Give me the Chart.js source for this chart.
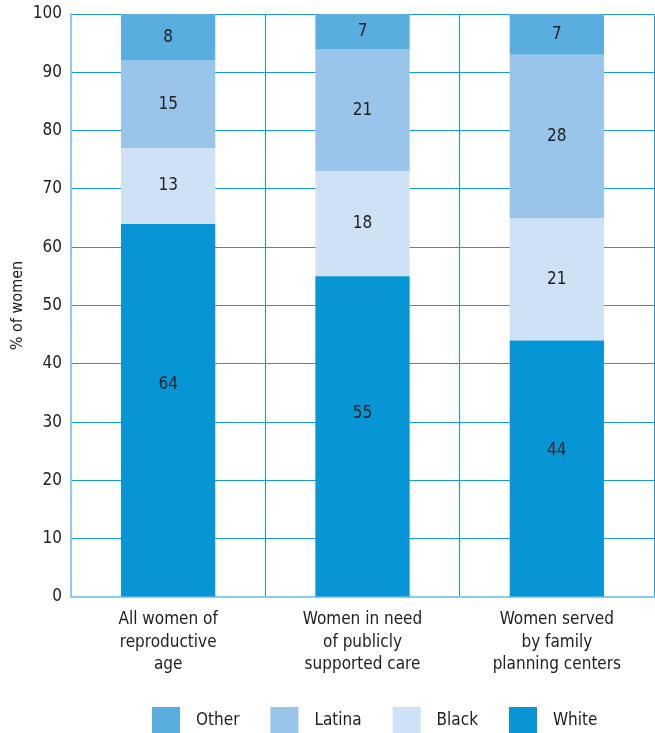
<!DOCTYPE html>
<html>
<head>
<meta charset="utf-8">
<script src="https://cdn.jsdelivr.net/npm/chart.js@4.4.0/dist/chart.umd.min.js"></script>
<style>
  html, body { margin: 0; padding: 0; background: #fff; }
  #wrap { width: 655px; height: 733px; }
</style>
</head>
<body>
<div id="wrap"><canvas id="chart" width="655" height="733"></canvas></div>
<script>
// chart data
var categories = [
    ['All women of', 'reproductive', 'age'],
    ['Women in need', 'of publicly', 'supported care'],
    ['Women served', 'by family', 'planning centers']
];
var white = [64, 55, 44];
var black = [13, 18, 21];
var latina = [15, 21, 28];
var other = [8, 7, 7];
var yTicks = [0, 10, 20, 30, 40, 50, 60, 70, 80, 90, 100];

var fontFam = "'Liberation Sans Narrow', 'DejaVu Sans Condensed', 'Roboto', sans-serif";
var gridBlue = '#1a9ad8';
var borderBlue = '#8ccbeb';

/* draws the value inside each segment (labelFrac = height from base, default middle) */
const segmentLabels = {
    id: 'segmentLabels',
    afterDatasetsDraw(chart) {
        const ctx = chart.ctx;
        const area = chart.chartArea;
        ctx.save();
        ctx.font = '17px ' + fontFam;
        ctx.fillStyle = '#222';
        ctx.textAlign = 'center';
        ctx.textBaseline = 'middle';
        chart.data.datasets.forEach(function (ds, i) {
            const meta = chart.getDatasetMeta(i);
            const frac = ds.labelFrac || 0.5;
            meta.data.forEach(function (bar, j) {
                let top = Math.max(bar.y, area.top);
                let bottom = Math.min(bar.base, area.bottom);
                ctx.fillText(ds.data[j], bar.x, bottom - (bottom - top) * frac);
            });
        });
        ctx.restore();
    }
};

/* legend row at the bottom, reversed order like the original */
const bottomLegend = {
    id: 'bottomLegend',
    afterDraw(chart) {
        const ctx = chart.ctx;
        const items = chart.data.datasets.slice().reverse();
        ctx.save();
        ctx.font = '17px ' + fontFam;
        ctx.textBaseline = 'middle';
        ctx.textAlign = 'left';
        let x = 152;
        const y = 707;
        items.forEach(function (ds) {
            ctx.fillStyle = ds.backgroundColor;
            ctx.fillRect(x, y, 28, 26);
            ctx.fillStyle = '#222';
            ctx.fillText(ds.label, x + 44, y + 14);
            x += 44 + ctx.measureText(ds.label).width + 31;
        });
        ctx.restore();
    }
};

new Chart(document.getElementById('chart'), {
    type: 'bar',
    data: {
        labels: categories,
        datasets: [
            { label: 'White', data: white, backgroundColor: '#0796d5', labelFrac: 0.57 },
            { label: 'Black', data: black, backgroundColor: '#cfe2f5' },
            { label: 'Latina', data: latina, backgroundColor: '#98c5e9' },
            { label: 'Other', data: other, backgroundColor: '#5aaddf' }
        ]
    },
    options: {
        responsive: false,
        animation: false,
        barPercentage: 0.485,
        categoryPercentage: 1,
        layout: { padding: { top: 14, right: 1, left: 0, bottom: 54 } },
        plugins: {
            tooltip: { enabled: false },
            legend: { display: false }
        },
        scales: {
            x: {
                stacked: true,
                grid: { color: gridBlue, lineWidth: 1, offset: true, drawTicks: false },
                border: { color: borderBlue, width: 2 },
                ticks: {
                    color: '#222',
                    padding: 12,
                    font: { family: fontFam, size: 17, lineHeight: 1.3 }
                },
                afterFit: function (axis) { axis.height = 82; }
            },
            y: {
                stacked: true,
                min: 0,
                max: 100,
                afterBuildTicks: function (axis) {
                    axis.ticks = yTicks.map(function (v) { return { value: v }; });
                },
                grid: { color: gridBlue, lineWidth: 1, drawTicks: false },
                border: { color: borderBlue, width: 2 },
                ticks: {
                    color: '#222',
                    padding: 9,
                    font: { family: fontFam, size: 17 }
                },
                title: {
                    display: true,
                    text: '% of women',
                    color: '#222',
                    padding: { top: 8, bottom: 0 },
                    font: { family: fontFam, size: 16 }
                },
                afterFit: function (axis) {
                    axis.width = 71;
                    axis.paddingTop = 0;
                    axis.paddingBottom = 0;
                }
            }
        }
    },
    plugins: [segmentLabels, bottomLegend]
});
</script>
</body>
</html>
